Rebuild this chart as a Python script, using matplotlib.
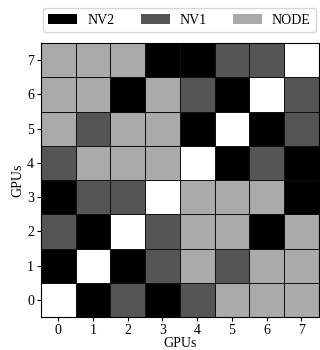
import matplotlib
matplotlib.use("Agg")
import matplotlib.pyplot as plt
import numpy as np
from matplotlib.colors import ListedColormap
from matplotlib.patches import Patch

plt.rcParams['font.family'] = ['Liberation Serif', 'DejaVu Serif']

gpus = [0, 1, 2, 3, 4, 5, 6, 7]
labels = ["NV2", "NV1", "NODE"]
# 0 = self, 1 = NODE, 2 = NV1, 3 = NV2 ; rows listed from GPU 0 (bottom) to GPU 7 (top)
links = [
    [0, 3, 2, 3, 2, 1, 1, 1],
    [3, 0, 3, 2, 1, 2, 1, 1],
    [2, 3, 0, 2, 1, 1, 3, 1],
    [3, 2, 2, 0, 1, 1, 1, 3],
    [2, 1, 1, 1, 0, 3, 2, 3],
    [1, 2, 1, 1, 3, 0, 3, 2],
    [1, 1, 3, 1, 2, 3, 0, 2],
    [1, 1, 1, 3, 3, 2, 2, 0],
]
colors = ["#ffffff", "#aaaaaa", "#555555", "#000000"]

fig = plt.figure(figsize=(3.2, 3.5), dpi=100)
ax = fig.add_axes([0.128, 0.094, 0.868, 0.783])
cmap = ListedColormap(colors)
data = np.array(links)
ax.pcolormesh(np.arange(-0.5, 8.5), np.arange(-0.5, 8.5), data, cmap=cmap,
              vmin=-0.5, vmax=3.5, edgecolors='#111111', linewidth=0.6)
ax.set_xlim(-0.5, 7.5)
ax.set_ylim(-0.5, 7.5)
ax.set_xticks(gpus)
ax.set_yticks(gpus)
ax.set_xticklabels([str(g) for g in gpus], fontsize=10)
ax.set_yticklabels([str(g) for g in gpus], fontsize=10)
ax.tick_params(length=3, pad=2)
ax.set_xlabel("GPUs", fontsize=10, labelpad=0)
ax.set_ylabel("GPUs", fontsize=10, labelpad=2)

handles = [Patch(facecolor=colors[3]), Patch(facecolor=colors[2]), Patch(facecolor=colors[1])]
fig.legend(handles, labels, ncol=3, loc='upper center', bbox_to_anchor=(0.561, 0.977),
           borderaxespad=0, fontsize=10, frameon=True, handlelength=2.1,
           handleheight=0.75, handletextpad=0.7, columnspacing=1.9,
           borderpad=0.4, fancybox=True)

fig.savefig("out.png", dpi=100)
